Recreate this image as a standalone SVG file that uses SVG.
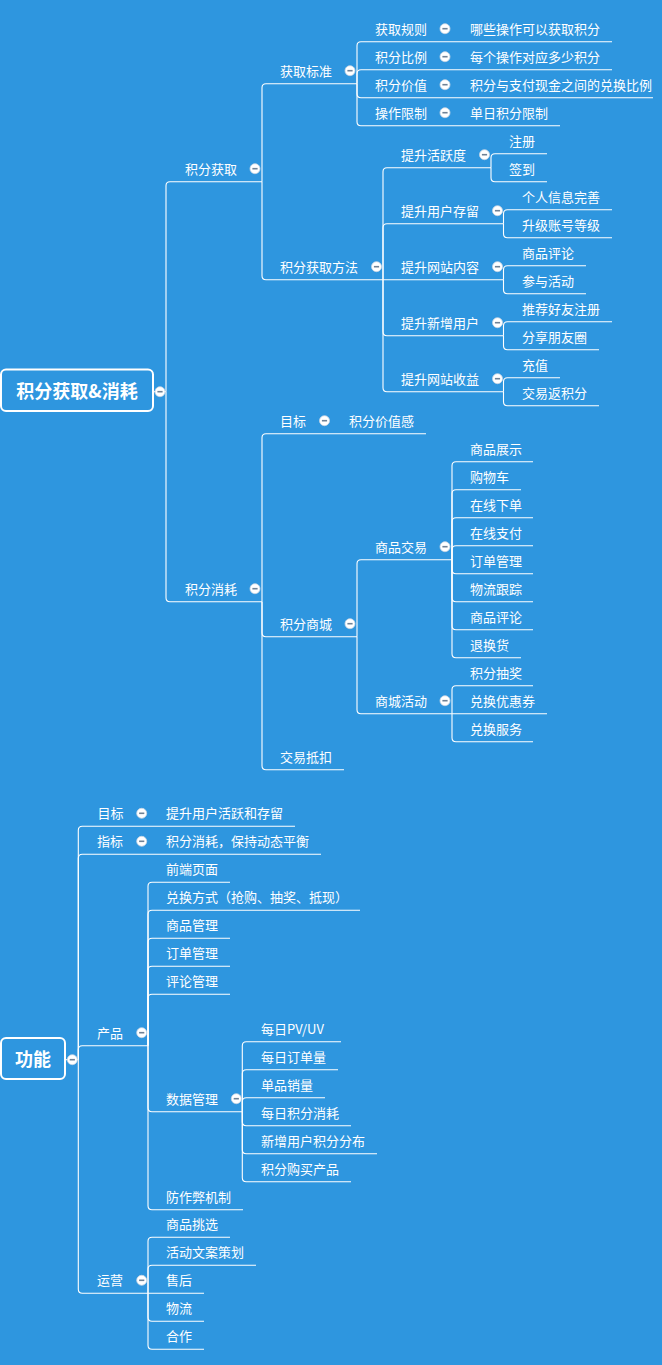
<svg xmlns="http://www.w3.org/2000/svg" xmlns:xlink="http://www.w3.org/1999/xlink" width="662" height="1365" viewBox="0 0 662 1365">
<style>
.t{font-family:"Noto Sans CJK SC","Noto Sans",sans-serif;font-size:13px;fill:#ffffff}
.rt{font-family:"Noto Sans CJK SC","Noto Sans",sans-serif;font-size:18px;font-weight:bold;fill:#ffffff}
.c{fill:none;stroke:#ffffff;stroke-width:1.1}
.box{fill:#2E96DF;stroke:#ffffff;stroke-width:2}
</style>
<defs>
<g id="ic"><circle r="5" fill="#ffffff" stroke="#c9d6e3" stroke-width="0.8"/><path d="M-2.6 0H2.6" stroke="#6f8296" stroke-width="1.6"/></g>
</defs>
<rect x="0" y="0" width="662" height="1365" fill="#2E96DF"/>
<g id="connectors" class="c">
<path d="M153 391.7H166"/>
<path d="M166 391.7V185.7Q166 181.7 170 181.7H262"/>
<path d="M166 391.7V597.7Q166 601.7 170 601.7H262"/>
<path d="M262 181.7V87.7Q262 83.7 266 83.7H357"/>
<path d="M262 181.7V275.7Q262 279.7 266 279.7H383"/>
<path d="M357 83.7V45.7Q357 41.7 361 41.7H612"/>
<path d="M357 83.7V73.7Q357 69.7 361 69.7H612"/>
<path d="M357 83.7V93.7Q357 97.7 361 97.7H653"/>
<path d="M357 83.7V121.7Q357 125.7 361 125.7H560"/>
<path d="M383 279.7V171.7Q383 167.7 387 167.7H491"/>
<path d="M383 279.7V227.7Q383 223.7 387 223.7H503.5"/>
<path d="M383 279.7H503.5"/>
<path d="M383 279.7V331.7Q383 335.7 387 335.7H503.5"/>
<path d="M383 279.7V387.7Q383 391.7 387 391.7H503.5"/>
<path d="M491 167.7V157.7Q491 153.7 495 153.7H547"/>
<path d="M491 167.7V177.7Q491 181.7 495 181.7H547"/>
<path d="M503.5 223.7V213.7Q503.5 209.7 507.5 209.7H612"/>
<path d="M503.5 223.7V233.7Q503.5 237.7 507.5 237.7H612"/>
<path d="M503.5 279.7V269.7Q503.5 265.7 507.5 265.7H586"/>
<path d="M503.5 279.7V289.7Q503.5 293.7 507.5 293.7H586"/>
<path d="M503.5 335.7V325.7Q503.5 321.7 507.5 321.7H612"/>
<path d="M503.5 335.7V345.7Q503.5 349.7 507.5 349.7H599"/>
<path d="M503.5 391.7V381.7Q503.5 377.7 507.5 377.7H560"/>
<path d="M503.5 391.7V401.7Q503.5 405.7 507.5 405.7H599"/>
<path d="M262 601.7V437.7Q262 433.7 266 433.7H426"/>
<path d="M262 601.7V632.7Q262 636.7 266 636.7H357"/>
<path d="M262 601.7V765.7Q262 769.7 266 769.7H344"/>
<path d="M357 636.7V563.7Q357 559.7 361 559.7H452"/>
<path d="M357 636.7V709.7Q357 713.7 361 713.7H452"/>
<path d="M452 559.7V465.7Q452 461.7 456 461.7H533"/>
<path d="M452 559.7V493.7Q452 489.7 456 489.7H521"/>
<path d="M452 559.7V521.7Q452 517.7 456 517.7H533"/>
<path d="M452 559.7V549.7Q452 545.7 456 545.7H533"/>
<path d="M452 559.7V569.7Q452 573.7 456 573.7H533"/>
<path d="M452 559.7V597.7Q452 601.7 456 601.7H533"/>
<path d="M452 559.7V625.7Q452 629.7 456 629.7H533"/>
<path d="M452 559.7V653.7Q452 657.7 456 657.7H521"/>
<path d="M452 713.7V689.7Q452 685.7 456 685.7H533"/>
<path d="M452 713.7H547"/>
<path d="M452 713.7V737.7Q452 741.7 456 741.7H533"/>
<path d="M65 1059.7H78.3"/>
<path d="M78.3 1059.7V830.3Q78.3 826.3 82.3 826.3H295"/>
<path d="M78.3 1059.7V858.3Q78.3 854.3 82.3 854.3H321"/>
<path d="M78.3 1059.7V1049.7Q78.3 1045.7 82.3 1045.7H148"/>
<path d="M78.3 1059.7V1289.3Q78.3 1293.3 82.3 1293.3H148"/>
<path d="M148 1045.7V886.3Q148 882.3 152 882.3H230"/>
<path d="M148 1045.7V914.3Q148 910.3 152 910.3H360"/>
<path d="M148 1045.7V942.3Q148 938.3 152 938.3H230"/>
<path d="M148 1045.7V970.3Q148 966.3 152 966.3H230"/>
<path d="M148 1045.7V998.3Q148 994.3 152 994.3H230"/>
<path d="M148 1045.7V1107.7Q148 1111.7 152 1111.7H242.3"/>
<path d="M148 1045.7V1205.7Q148 1209.7 152 1209.7H243"/>
<path d="M242.3 1111.7V1045.7Q242.3 1041.7 246.3 1041.7H341"/>
<path d="M242.3 1111.7V1073.7Q242.3 1069.7 246.3 1069.7H338"/>
<path d="M242.3 1111.7V1101.7Q242.3 1097.7 246.3 1097.7H325"/>
<path d="M242.3 1111.7V1121.7Q242.3 1125.7 246.3 1125.7H351"/>
<path d="M242.3 1111.7V1149.7Q242.3 1153.7 246.3 1153.7H377"/>
<path d="M242.3 1111.7V1177.7Q242.3 1181.7 246.3 1181.7H351"/>
<path d="M148 1293.3V1241.3Q148 1237.3 152 1237.3H230"/>
<path d="M148 1293.3V1269.3Q148 1265.3 152 1265.3H256"/>
<path d="M148 1293.3H204"/>
<path d="M148 1293.3V1317.3Q148 1321.3 152 1321.3H204"/>
<path d="M148 1293.3V1345.3Q148 1349.3 152 1349.3H204"/>
</g>
<g id="root1">
<rect class="box" x="1" y="369.5" width="152" height="41.5" rx="5"/>
<text class="rt" x="77" y="397.5" text-anchor="middle">积分获取&amp;消耗</text>
<use href="#ic" x="160" y="391.7"/>
</g>
<g id="n-jfhq"><text class="t" x="185" y="173.7">积分获取</text><use href="#ic" x="255" y="168.7"/></g>
<g id="n-jfxh"><text class="t" x="185" y="593.7">积分消耗</text><use href="#ic" x="255" y="588.7"/></g>
<g id="n-hqbz"><text class="t" x="280" y="75.7">获取标准</text><use href="#ic" x="350" y="70.7"/></g>
<g id="n-jfhqff"><text class="t" x="280" y="271.7">积分获取方法</text><use href="#ic" x="376.5" y="266.7"/></g>
<g id="n-hqgz"><text class="t" x="375" y="33.7">获取规则</text><use href="#ic" x="445" y="28.7"/></g>
<g id="n-hqgz-1"><text class="t" x="470" y="33.7">哪些操作可以获取积分</text></g>
<g id="n-jfbl"><text class="t" x="375" y="61.7">积分比例</text><use href="#ic" x="445" y="56.7"/></g>
<g id="n-jfbl-1"><text class="t" x="470" y="61.7">每个操作对应多少积分</text></g>
<g id="n-jfjz"><text class="t" x="375" y="89.7">积分价值</text><use href="#ic" x="445" y="84.7"/></g>
<g id="n-jfjz-1"><text class="t" x="470" y="89.7">积分与支付现金之间的兑换比例</text></g>
<g id="n-czxz"><text class="t" x="375" y="117.7">操作限制</text><use href="#ic" x="445" y="112.7"/></g>
<g id="n-czxz-1"><text class="t" x="470" y="117.7">单日积分限制</text></g>
<g id="n-hyd"><text class="t" x="401" y="159.7">提升活跃度</text><use href="#ic" x="484.5" y="154.7"/></g>
<g id="n-zc"><text class="t" x="509" y="145.7">注册</text></g>
<g id="n-qd"><text class="t" x="509" y="173.7">签到</text></g>
<g id="n-yhcl"><text class="t" x="401" y="215.7">提升用户存留</text><use href="#ic" x="497.5" y="210.7"/></g>
<g id="n-grxx"><text class="t" x="522" y="201.7">个人信息完善</text></g>
<g id="n-sjzh"><text class="t" x="522" y="229.7">升级账号等级</text></g>
<g id="n-wznr"><text class="t" x="401" y="271.7">提升网站内容</text><use href="#ic" x="497.5" y="266.7"/></g>
<g id="n-sppl1"><text class="t" x="522" y="257.7">商品评论</text></g>
<g id="n-cyhd"><text class="t" x="522" y="285.7">参与活动</text></g>
<g id="n-xzyh"><text class="t" x="401" y="327.7">提升新增用户</text><use href="#ic" x="497.5" y="322.7"/></g>
<g id="n-tjhy"><text class="t" x="522" y="313.7">推荐好友注册</text></g>
<g id="n-fxpyq"><text class="t" x="522" y="341.7">分享朋友圈</text></g>
<g id="n-wzsy"><text class="t" x="401" y="383.7">提升网站收益</text><use href="#ic" x="497.5" y="378.7"/></g>
<g id="n-cz"><text class="t" x="522" y="369.7">充值</text></g>
<g id="n-jyfjf"><text class="t" x="522" y="397.7">交易返积分</text></g>
<g id="n-mb1"><text class="t" x="280" y="425.7">目标</text><use href="#ic" x="324.5" y="420.7"/></g>
<g id="n-jfjzg"><text class="t" x="349" y="425.7">积分价值感</text></g>
<g id="n-jfsc"><text class="t" x="280" y="628.7">积分商城</text><use href="#ic" x="350" y="623.7"/></g>
<g id="n-spjy"><text class="t" x="375" y="551.7">商品交易</text><use href="#ic" x="445" y="546.7"/></g>
<g id="n-spzs"><text class="t" x="470" y="453.7">商品展示</text></g>
<g id="n-gwc"><text class="t" x="470" y="481.7">购物车</text></g>
<g id="n-zxxd"><text class="t" x="470" y="509.7">在线下单</text></g>
<g id="n-zxzf"><text class="t" x="470" y="537.7">在线支付</text></g>
<g id="n-ddgl1"><text class="t" x="470" y="565.7">订单管理</text></g>
<g id="n-wlgz"><text class="t" x="470" y="593.7">物流跟踪</text></g>
<g id="n-sppl2"><text class="t" x="470" y="621.7">商品评论</text></g>
<g id="n-thh"><text class="t" x="470" y="649.7">退换货</text></g>
<g id="n-schd"><text class="t" x="375" y="705.7">商城活动</text><use href="#ic" x="445" y="700.7"/></g>
<g id="n-jfcj"><text class="t" x="470" y="677.7">积分抽奖</text></g>
<g id="n-dhyhq"><text class="t" x="470" y="705.7">兑换优惠券</text></g>
<g id="n-dhfw"><text class="t" x="470" y="733.7">兑换服务</text></g>
<g id="n-jydk"><text class="t" x="280" y="761.7">交易抵扣</text></g>
<g id="root2">
<rect class="box" x="1" y="1038" width="64" height="41" rx="5"/>
<text class="rt" x="33" y="1065.5" text-anchor="middle">功能</text>
<use href="#ic" x="72.3" y="1059.7"/>
</g>
<g id="n-mb2"><text class="t" x="97.5" y="818.3">目标</text><use href="#ic" x="141.7" y="813.3"/></g>
<g id="n-mb2-1"><text class="t" x="166" y="818.3">提升用户活跃和存留</text></g>
<g id="n-zb"><text class="t" x="97" y="846.3">指标</text><use href="#ic" x="141.7" y="841.3"/></g>
<g id="n-zb-1"><text class="t" x="166" y="846.3">积分消耗，保持动态平衡</text></g>
<g id="n-cp"><text class="t" x="97" y="1037.7">产品</text><use href="#ic" x="141.7" y="1032.7"/></g>
<g id="n-qdym"><text class="t" x="166" y="874.3">前端页面</text></g>
<g id="n-dhfs"><text class="t" x="166" y="902.3">兑换方式（抢购、抽奖、抵现）</text></g>
<g id="n-spgl"><text class="t" x="166" y="930.3">商品管理</text></g>
<g id="n-ddgl2"><text class="t" x="166" y="958.3">订单管理</text></g>
<g id="n-plgl"><text class="t" x="166" y="986.3">评论管理</text></g>
<g id="n-sjgl"><text class="t" x="166" y="1103.7">数据管理</text><use href="#ic" x="236.3" y="1098.7"/></g>
<g id="n-pvuv"><text class="t" x="261" y="1033.7">每日PV/UV</text></g>
<g id="n-mrddl"><text class="t" x="261" y="1061.7">每日订单量</text></g>
<g id="n-dpxl"><text class="t" x="261" y="1089.7">单品销量</text></g>
<g id="n-mrjfxh"><text class="t" x="261" y="1117.7">每日积分消耗</text></g>
<g id="n-xzyhjf"><text class="t" x="261" y="1145.7">新增用户积分分布</text></g>
<g id="n-jfgmcp"><text class="t" x="261" y="1173.7">积分购买产品</text></g>
<g id="n-fzbjz"><text class="t" x="166" y="1201.7">防作弊机制</text></g>
<g id="n-yy"><text class="t" x="97" y="1285.3">运营</text><use href="#ic" x="141.7" y="1280.3"/></g>
<g id="n-sptx"><text class="t" x="166" y="1229.3">商品挑选</text></g>
<g id="n-hdwa"><text class="t" x="166" y="1257.3">活动文案策划</text></g>
<g id="n-sh"><text class="t" x="166" y="1285.3">售后</text></g>
<g id="n-wl"><text class="t" x="166" y="1313.3">物流</text></g>
<g id="n-hz"><text class="t" x="166" y="1341.3">合作</text></g>
</svg>
